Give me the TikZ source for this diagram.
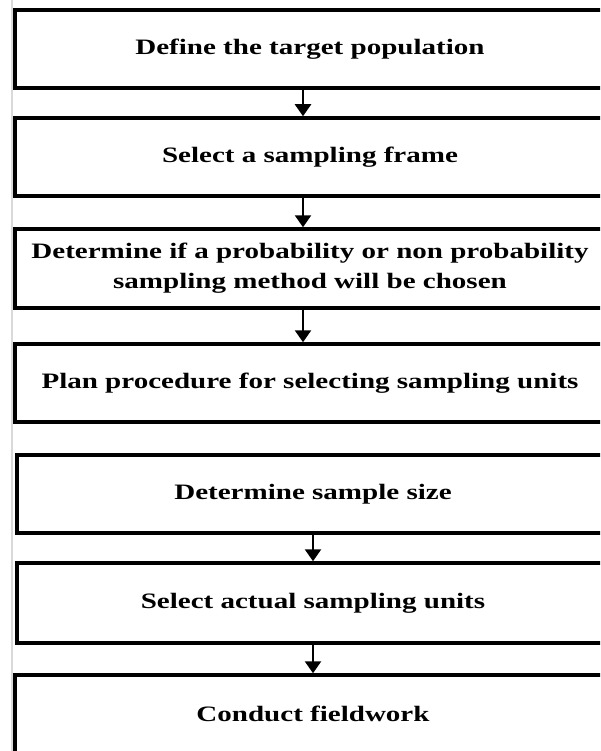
\documentclass[tikz,border=0pt]{standalone}
\usepackage{fontspec}
\setmainfont{Liberation Serif}
\newfontfamily\widefont[FakeStretch=1.32]{Liberation Serif}
\usetikzlibrary{arrows.meta}
\tikzset{
  boxtext/.style={font=\widefont\fontsize{22}{30}\selectfont\bfseries, align=center},
  stepbox/.style={draw=black, line width=3.5pt, minimum width=#1, inner sep=0pt, boxtext},
  arr/.style={line width=2.5pt, -{Triangle[width=16pt,length=12pt]}},
  rule/.style={draw=black!15, line width=2pt}
}
\begin{document}
\begin{tikzpicture}[x=1pt,y=-1pt]
\clip (0,0) rectangle (600,751);
\fill[white] (0,0) rectangle (600,751);
\draw[rule] (12,0) -- (12,751);
\node[stepbox=590pt, minimum height=78pt] (b1) at (310,49) {Define the target population};
\node[stepbox=590pt, minimum height=78pt] (b2) at (310,157) {Select a sampling frame};
\node[stepbox=590pt, minimum height=79pt] (b3) at (310,268.5) {Determine if a probability or non probability\\sampling method will be chosen};
\node[stepbox=590pt, minimum height=78pt] (b4) at (310,383) {Plan procedure for selecting sampling units};
\node[stepbox=592pt, minimum height=78pt] (b5) at (313,494) {Determine sample size};
\node[stepbox=592pt, minimum height=80pt] (b6) at (313,603) {Select actual sampling units};
\node[stepbox=596pt, minimum height=115pt] (b7) at (313,732.5) {};
\node[boxtext] (t7) at (313,714) {Conduct fieldwork};
\draw[arr] ([xshift=-7pt]b1.south) -- ([xshift=-7pt]b2.north);
\draw[arr] ([xshift=-7pt]b2.south) -- ([xshift=-7pt]b3.north);
\draw[arr] ([xshift=-7pt]b3.south) -- ([xshift=-7pt]b4.north);
\draw[arr] (b5.south) -- (b6.north);
\draw[arr] (b6.south) -- (b7.north);
\end{tikzpicture}
\end{document}
